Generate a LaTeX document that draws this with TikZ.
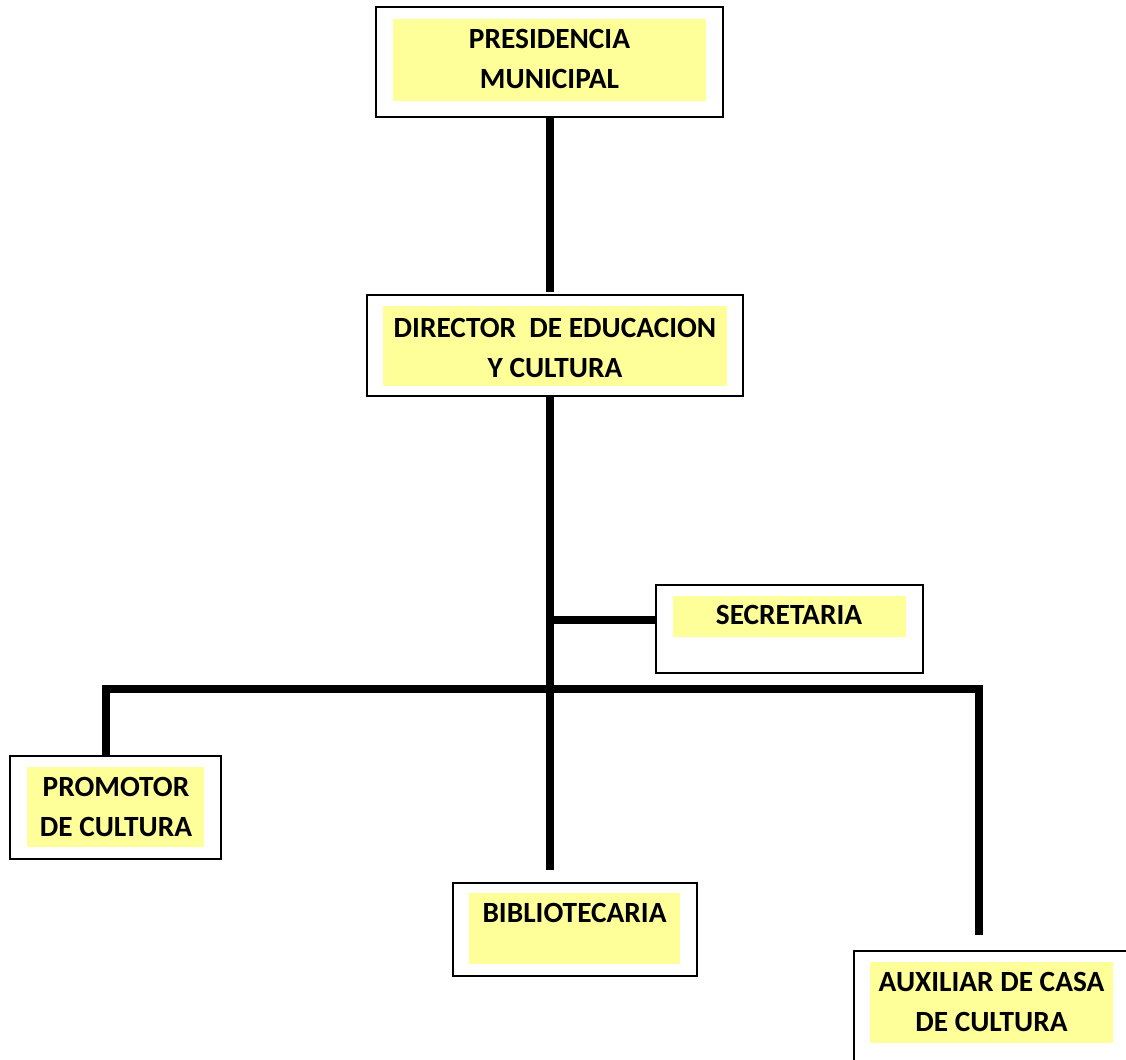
\documentclass[tikz,border=0pt]{standalone}
\usepackage{fontspec}
\setmainfont{Carlito}
\usetikzlibrary{fit}
\definecolor{paneyellow}{RGB}{255,255,153}
\tikzset{
  frame/.style={draw=black, line width=1pt, inner sep=0pt, fill=white},
  panel/.style={fill=paneyellow, inner sep=0pt},
  lbl/.style={font=\fontsize{22}{30}\selectfont\bfseries, align=center, inner sep=0pt},
  wire/.style={line width=5.4pt, line join=miter}
}
\begin{document}
\begin{tikzpicture}[x=0.75pt,y=-0.75pt]
\clip (0,0) rectangle (1126,1059);
\fill[white] (0,0) rectangle (1126,1059);

% outer frames
\node[frame, fit={(376,7)(723,117)}] (pres) {};
\node[frame, fit={(367,295)(743,396)}] (dir) {};
\node[frame, fit={(656,585)(923,673)}] (sec) {};
\node[frame, fit={(10,756)(221,859)}] (prom) {};
\node[frame, fit={(453,883)(697,976)}] (bib) {};
\node[frame, fit={(854,951)(1140,1080)}] (aux) {};

% yellow panels
\node[panel, fit={(393,19)(706,101)}] (presY) {};
\node[panel, fit={(383,306)(727,386)}] (dirY) {};
\node[panel, fit={(673,596)(906,637)}] (secY) {};
\node[panel, fit={(27,767)(204,847)}] (promY) {};
\node[panel, fit={(469,893)(680,964)}] (bibY) {};
\node[panel, fit={(870,962)(1113,1043)}] (auxY) {};

% titles
\node[lbl] (presT) at (549.5,59) {PRESIDENCIA\\MUNICIPAL};
\node[lbl] (dirT) at (555,348) {DIRECTOR\ \ DE EDUCACION\\Y CULTURA};
\node[lbl] (secT) at (789,615) {SECRETARIA};
\node[lbl] (promT) at (116,807) {PROMOTOR\\DE CULTURA};
\node[lbl] (bibT) at (574.5,913) {BIBLIOTECARIA};
\node[lbl] (auxT) at (991.5,1002) {AUXILIAR DE CASA\\DE CULTURA};

% junction points of the connecting lines
\coordinate (dirTop) at (550,292);
\coordinate (trunkEnd) at (550,870);
\coordinate (secJ) at (550,620);
\coordinate (barL) at (106,689);
\coordinate (barR) at (979,689);
\coordinate (auxEnd) at (979,935);

% connectors
\draw[wire] (pres.south -| dirTop) -- (dirTop);
\draw[wire] (dir.south -| trunkEnd) -- (trunkEnd);
\draw[wire] (secJ) -- (secJ -| sec.west);
\draw[wire] (prom.north -| barL) -- (barL) -- (barR) -- (auxEnd);
\end{tikzpicture}
\end{document}
